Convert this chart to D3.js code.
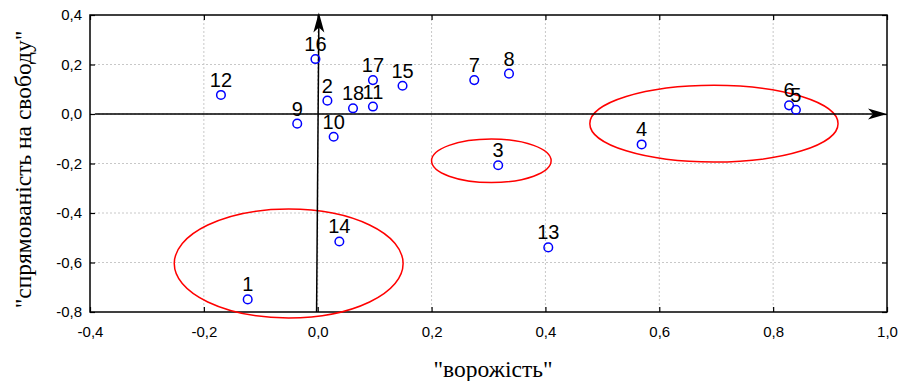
<!DOCTYPE html>
<meta charset="utf-8">
<style>
html,body { margin:0; padding:0; background:#fff; overflow:hidden; }
.tick text { font-family:"Liberation Sans", Arial, sans-serif; font-size:15px; fill:#000; }
.tick line { stroke:#000; stroke-width:1.2px; }
.grid line { stroke:#c8c8c8; stroke-width:1px; stroke-dasharray:2,2; }
.title { font-family:"Liberation Serif", "Times New Roman", serif; font-size:23.5px; fill:#000; }
.lbl { font-family:"Liberation Sans", Arial, sans-serif; font-size:20px; fill:#000; text-anchor:middle; }
</style>
<body>
<svg></svg>
</body>
<script src="https://cdn.jsdelivr.net/npm/d3@7"></script>
<script>

var W = 899, H = 381;
var margin = {top:15, right:12, bottom:69, left:90};

// point data
var labels = ["1","2","3","4","5","6","7","8","9","10","11","12","13","14","15","16","17","18"];
var hostility = [-0.123,0.017,0.317,0.569,0.840,0.828,0.275,0.336,-0.036,0.028,0.097,-0.170,0.405,0.038,0.149,-0.004,0.097,0.062];
var freedom   = [-0.749,0.054,-0.207,-0.123,0.017,0.035,0.137,0.163,-0.039,-0.092,0.030,0.077,-0.539,-0.515,0.114,0.222,0.137,0.023];

// cluster ellipses: centre x, centre y, radius x, radius y (data units)
var ellCx = [-0.051, 0.305, 0.696];
var ellCy = [-0.604, -0.189, -0.039];
var ellRx = [0.201, 0.105, 0.218];
var ellRy = [0.220, 0.088, 0.155];

var xTicks = [-0.4,-0.2,0,0.2,0.4,0.6,0.8,1.0];
var yTicks = [-0.8,-0.6,-0.4,-0.2,0,0.2,0.4];

var svg = d3.select("svg").attr("width",W).attr("height",H);

var x = d3.scaleLinear().domain([-0.4,1.0]).range([margin.left, W-margin.right]);
var y = d3.scaleLinear().domain([-0.8,0.4]).range([H-margin.bottom, margin.top]);

var fmt = function(v){ return (Math.abs(v)<1e-9 ? 0 : v).toFixed(1).replace(".",","); };

// grid
var grid = svg.append("g").attr("class","grid");
grid.selectAll(".gx").data(xTicks.slice(1,-1)).enter().append("line")
  .attr("x1",d=>x(d)).attr("x2",d=>x(d)).attr("y1",y(0.4)).attr("y2",y(-0.8));
grid.selectAll(".gy").data(yTicks.slice(1,-1)).enter().append("line")
  .attr("y1",d=>y(d)).attr("y2",d=>y(d)).attr("x1",x(-0.4)).attr("x2",x(1.0));

// axes, ticks pointing inward
svg.append("g").attr("transform","translate(0,"+y(-0.8)+")")
  .call(d3.axisBottom(x).tickValues(xTicks).tickFormat(fmt).tickSizeInner(-5).tickSizeOuter(0).tickPadding(14))
  .call(g=>g.select(".domain").remove());
svg.append("g").attr("transform","translate(0,"+y(0.4)+")")
  .call(d3.axisTop(x).tickValues(xTicks).tickFormat("").tickSizeInner(-5).tickSizeOuter(0))
  .call(g=>g.select(".domain").remove());
svg.append("g").attr("transform","translate("+x(-0.4)+",0)")
  .call(d3.axisLeft(y).tickValues(yTicks).tickFormat(fmt).tickSizeInner(-5).tickSizeOuter(0).tickPadding(8))
  .call(g=>g.select(".domain").remove());
svg.append("g").attr("transform","translate("+x(1.0)+",0)")
  .call(d3.axisRight(y).tickValues(yTicks).tickFormat("").tickSizeInner(-5).tickSizeOuter(0))
  .call(g=>g.select(".domain").remove());

// frame
svg.append("rect")
  .attr("x",x(-0.4)).attr("y",y(0.4))
  .attr("width",x(1.0)-x(-0.4)).attr("height",y(-0.8)-y(0.4))
  .attr("fill","none").attr("stroke","#000").attr("stroke-width",1.5);

// ellipses
svg.selectAll(".ell").data(ellCx).enter().append("ellipse")
  .attr("cx",d=>x(d))
  .attr("cy",(d,i)=>y(ellCy[i]))
  .attr("rx",(d,i)=>x(ellRx[i])-x(0))
  .attr("ry",(d,i)=>y(0)-y(ellRy[i]))
  .attr("fill","none").attr("stroke","#f00").attr("stroke-width",1.5);

// axis vectors through origin
svg.append("line")
  .attr("x1",x(-0.391)).attr("x2",x(1.0)-8).attr("y1",y(0)).attr("y2",y(0))
  .attr("stroke","#000").attr("stroke-width",1.5);
svg.append("line")
  .attr("x1",x(-0.002)).attr("x2",x(0.002)).attr("y1",y(-0.8)).attr("y2",y(0.41)+8)
  .attr("stroke","#000").attr("stroke-width",1.5);

var hx = x(1.0), hy = y(0);
svg.append("path")
  .attr("d","M"+hx+","+hy+"L"+(hx-19)+","+(hy-5.5)+"L"+(hx-14)+","+hy+"L"+(hx-19)+","+(hy+5.5)+"Z")
  .attr("fill","#000");
var vx = x(0.002), vy = y(0.41);
svg.append("path")
  .attr("d","M"+vx+","+vy+"L"+(vx-5.5)+","+(vy+20)+"L"+vx+","+(vy+15)+"L"+(vx+5.5)+","+(vy+20)+"Z")
  .attr("fill","#000");

// points
svg.selectAll(".pt").data(labels).enter().append("circle")
  .attr("cx",(d,i)=>x(hostility[i]))
  .attr("cy",(d,i)=>y(freedom[i]))
  .attr("r",4.3)
  .attr("fill","none").attr("stroke","#00f").attr("stroke-width",1.5);

svg.selectAll(".lbl").data(labels).enter().append("text")
  .attr("class","lbl")
  .attr("x",(d,i)=>x(hostility[i]))
  .attr("y",(d,i)=>y(freedom[i])-8)
  .text(d=>d);

// titles
svg.append("text").attr("class","title")
  .attr("text-anchor","middle")
  .attr("x",493).attr("y",377)
  .text("\"ворожість\"");
svg.append("text").attr("class","title")
  .attr("text-anchor","middle")
  .attr("transform","translate(31,"+((y(0.4)+y(-0.8))/2+6)+") rotate(-90)")
  .text("\"спрямованість на свободу\"");

</script>
